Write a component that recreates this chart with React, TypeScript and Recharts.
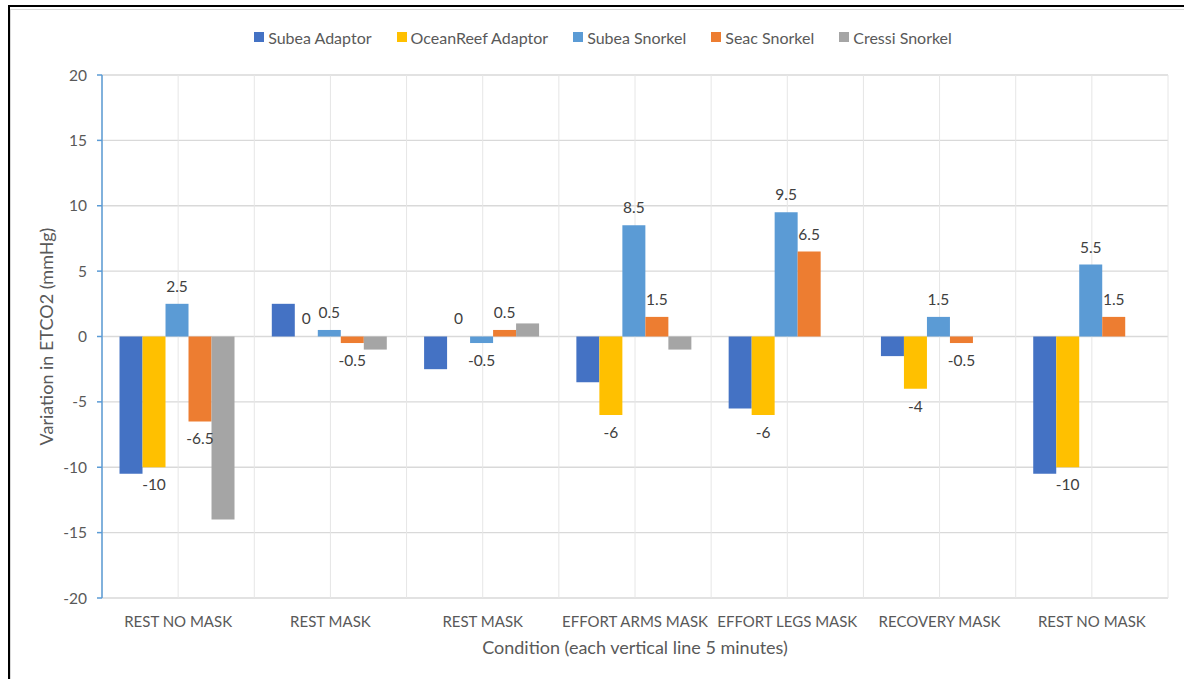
import React from "react";
import { BarChart, Bar, XAxis, YAxis, CartesianGrid, Legend, LabelList } from "recharts";

// ── Style tokens (Excel-ish palette) ──
const FONT = "Lato, 'Open Sans', sans-serif";
const TEXT = "#595959";
const LABEL = "#404040";
const GRID_H = "#D9D9D9";
const GRID_V = "#E6E6E6";
const AXIS_BLUE = "#5B9BD5";

// ── Data ──
const CONDITIONS = [
  "REST NO MASK",
  "REST MASK",
  "REST MASK",
  "EFFORT ARMS MASK",
  "EFFORT LEGS MASK",
  "RECOVERY MASK",
  "REST NO MASK",
];
const SUBEA_ADAPTOR = [-10.5, 2.5, -2.5, -3.5, -5.5, -1.5, -10.5];
const OCEANREEF_ADAPTOR = [-10, 0, 0, -6, -6, -4, -10];
const SUBEA_SNORKEL = [2.5, 0.5, -0.5, 8.5, 9.5, 1.5, 5.5];
const SEAC_SNORKEL = [-6.5, -0.5, 0.5, 1.5, 6.5, -0.5, 1.5];
const CRESSI_SNORKEL = [-14, -1, 1, -1, 0, 0, 0];
const Y_TICKS = [-20, -15, -10, -5, 0, 5, 10, 15, 20];

const SERIES = [
  { key: "subeaAdaptor", name: "Subea Adaptor", color: "#4472C4", values: SUBEA_ADAPTOR, labels: false },
  { key: "oceanReefAdaptor", name: "OceanReef Adaptor", color: "#FFC000", values: OCEANREEF_ADAPTOR, labels: true },
  { key: "subeaSnorkel", name: "Subea Snorkel", color: "#5B9BD5", values: SUBEA_SNORKEL, labels: true },
  { key: "seacSnorkel", name: "Seac Snorkel", color: "#ED7D31", values: SEAC_SNORKEL, labels: true },
  { key: "cressiSnorkel", name: "Cressi Snorkel", color: "#A5A5A5", values: CRESSI_SNORKEL, labels: false },
];

const data = CONDITIONS.map((condition, i) => {
  const row: Record<string, number | string> = { idx: i, condition };
  SERIES.forEach((s) => {
    row[s.key] = s.values[i];
  });
  return row;
});

// ── Legend (kept in series order, Recharts sorts by name otherwise) ──
function LegendContent({ payload }: { payload?: { value: string; color: string }[] }) {
  const items = [...(payload ?? [])].sort(
    (a, b) => SERIES.findIndex((s) => s.name === a.value) - SERIES.findIndex((s) => s.name === b.value)
  );
  return (
    <div
      style={{
        display: "flex",
        justifyContent: "center",
        alignItems: "center",
        height: 20,
        fontFamily: FONT,
        fontSize: 16,
        color: TEXT,
      }}
    >
      {items.map((p, i) => (
        <div key={p.value} style={{ display: "flex", alignItems: "center", marginLeft: i ? 25 : 0 }}>
          <span style={{ display: "inline-block", width: 10, height: 10, background: p.color, marginRight: 4 }} />
          <span>{p.value}</span>
        </div>
      ))}
    </div>
  );
}

export default function App() {
  return (
    <div style={{ position: "absolute", left: 0, top: 0, width: 1184, height: 679, background: "#fff", overflow: "hidden" }}>
      {/* outer black frame and inner light chart border */}
      <div
        style={{
          position: "absolute",
          left: 8,
          top: 5,
          width: 1176,
          height: 674,
          boxSizing: "border-box",
          borderLeft: "2px solid #000",
          borderTop: "2px solid #000",
        }}
      />
      <div
        style={{
          position: "absolute",
          left: 10,
          top: 9,
          width: 1174,
          height: 670,
          boxSizing: "border-box",
          borderLeft: "1px solid #D9D9D9",
          borderTop: "1px solid #D9D9D9",
        }}
      />
      <div style={{ position: "absolute", left: 0, top: 0 }}>
        <BarChart
          width={1184}
          height={679}
          data={data}
          margin={{ top: 55, right: 16, bottom: 21, left: 0 }}
          barCategoryGap="11.5%"
          barGap={0}
        >
          <CartesianGrid vertical={false} stroke={GRID_H} strokeWidth={1.3} />
          <CartesianGrid
            horizontal={false}
            stroke={GRID_V}
            verticalCoordinatesGenerator={({ offset }: any) =>
              Array.from(
                { length: CONDITIONS.length * 2 + 1 },
                (_, i) => offset.left + (i * offset.width) / (CONDITIONS.length * 2)
              )
            }
          />
          <XAxis
            dataKey="idx"
            type="category"
            tickFormatter={(i: number) => CONDITIONS[i]}
            axisLine={false}
            tickLine={false}
            tickMargin={12}
            height={60}
            tick={{ fontSize: 15, fill: TEXT, fontFamily: FONT }}
            interval={0}
            label={{
              value: "Condition (each vertical line 5 minutes)",
              position: "insideBottom",
              offset: 4,
              fill: TEXT,
              fontSize: 18,
              fontFamily: FONT,
            }}
          />
          <YAxis
            width={102}
            domain={[-20, 20]}
            ticks={Y_TICKS}
            interval={0}
            axisLine={{ stroke: AXIS_BLUE, strokeWidth: 1.5 }}
            tickLine={{ stroke: AXIS_BLUE, strokeWidth: 1.5 }}
            tickSize={5}
            tickMargin={10}
            tick={{ fontSize: 15.5, fill: TEXT, fontFamily: FONT }}
            label={{
              value: "Variation in ETCO2 (mmHg)",
              angle: -90,
              position: "insideLeft",
              offset: 47,
              fill: TEXT,
              fontSize: 18,
              fontFamily: FONT,
              style: { textAnchor: "middle" },
            }}
          />
          <Legend
            verticalAlign="top"
            wrapperStyle={{ top: 27, left: 19, width: 1168 }}
            content={(props: any) => <LegendContent payload={props.payload} />}
          />
          {SERIES.map((s) => (
            <Bar
              key={s.key}
              dataKey={s.key}
              name={s.name}
              fill={s.color}
              isAnimationActive={false}
              // zero-height bars get no label otherwise; keep a hair-thin bar so "0" is shown
              minPointSize={s.labels ? (v: number) => (v === 0 ? 0.01 : 0) : 0}
            >
              {s.labels && (
                <LabelList
                  dataKey={s.key}
                  position="top"
                  offset={12}
                  fill={LABEL}
                  fontSize={15.5}
                  fontFamily={FONT}
                  formatter={(v: any) => String(v)}
                />
              )}
            </Bar>
          ))}
        </BarChart>
      </div>
    </div>
  );
}
